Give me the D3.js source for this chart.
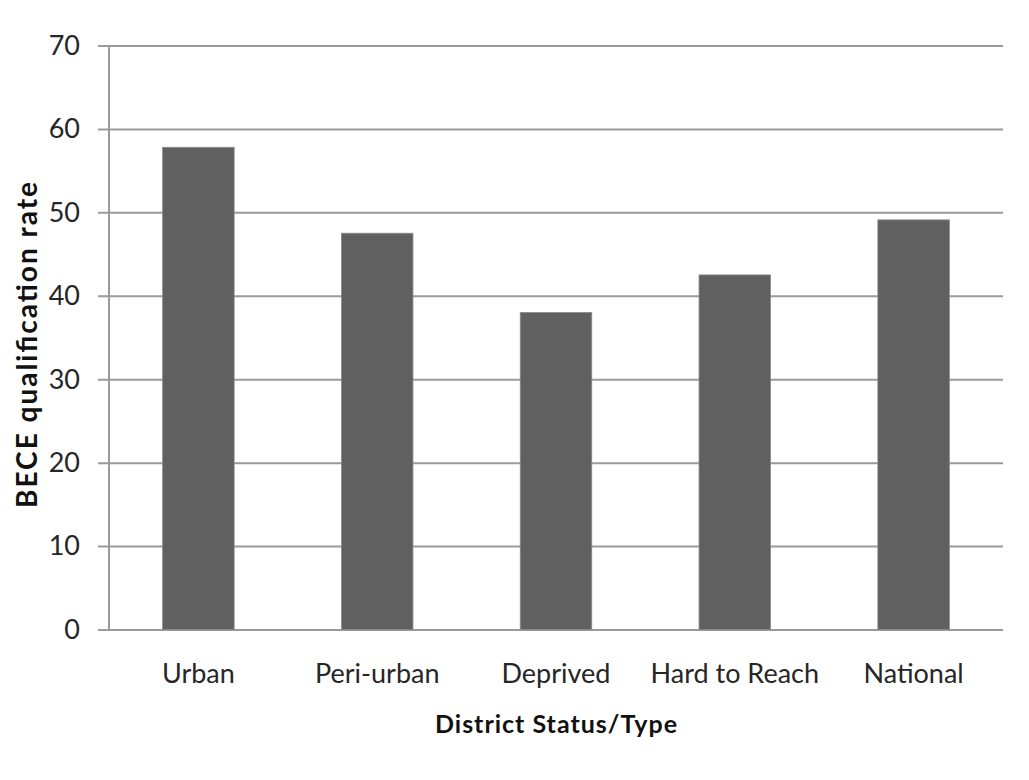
<!DOCTYPE html>
<html>
<head>
<meta charset="utf-8">
<script src="https://cdn.jsdelivr.net/npm/d3@7"></script>
<style>
  html, body { margin: 0; padding: 0; background: #ffffff; }
  svg text { font-family: Lato, "Open Sans", sans-serif; }
</style>
</head>
<body>
<svg id="chart" width="1029" height="780"></svg>
<script>
// District types and BECE qualification rates (%)
const categories = ["Urban", "Peri-urban", "Deprived", "Hard to Reach", "National"];
const rates = [57.8, 47.5, 38.0, 42.5, 49.1];
const yTicks = [0, 10, 20, 30, 40, 50, 60, 70];
const xTitle = "District Status/Type";
const yTitle = "BECE qualification rate";

const svg = d3.select("#chart");
const margin = { left: 109, right: 26, top: 45.5, bottom: 150.5 };
const W = 1029, H = 780;
const plotW = W - margin.left - margin.right;
const plotH = H - margin.top - margin.bottom;

const x = d3.scaleBand()
  .domain(categories)
  .range([0, plotW])
  .paddingInner(0.6)
  .paddingOuter(0.3);

const y = d3.scaleLinear()
  .domain([0, 70])
  .range([plotH, 0]);

const g = svg.append("g").attr("transform", `translate(${margin.left},${margin.top})`);

// Horizontal gridlines with outward tick marks
const yAxis = d3.axisLeft(y)
  .tickValues(yTicks)
  .tickSize(-plotW)
  .tickSizeOuter(0)
  .tickPadding(29)
  .tickFormat(d3.format("d"));

const yg = g.append("g").call(yAxis);
yg.select(".domain").remove();
yg.selectAll(".tick line")
  .attr("x1", -11)
  .attr("stroke", "#9a9a9a")
  .attr("stroke-width", 2);
yg.selectAll(".tick text")
  .attr("fill", "#262626")
  .attr("font-size", 27)
  .attr("dy", "0.33em");

// Vertical axis line
g.append("line")
  .attr("x1", 0).attr("x2", 0)
  .attr("y1", 0).attr("y2", plotH)
  .attr("stroke", "#9a9a9a")
  .attr("stroke-width", 2);

// Bars
g.selectAll("rect.bar")
  .data(categories)
  .join("rect")
  .attr("class", "bar")
  .attr("x", d => x(d))
  .attr("width", x.bandwidth())
  .attr("y", (d, i) => y(rates[i]))
  .attr("height", (d, i) => plotH - y(rates[i]))
  .attr("fill", "#606060")
  .attr("stroke", "#8a8a8a")
  .attr("stroke-width", 0.8);

// Category labels
const xAxis = d3.axisBottom(x).tickSize(0).tickPadding(0);
const xg = g.append("g").attr("transform", `translate(0,${plotH})`).call(xAxis);
xg.select(".domain").remove();
xg.selectAll(".tick text")
  .attr("fill", "#262626")
  .attr("font-size", 27)
  .attr("dy", null)
  .attr("y", 683 - margin.top - plotH);

// Axis titles
svg.append("text")
  .attr("x", 556)
  .attr("y", 733)
  .attr("text-anchor", "middle")
  .attr("font-size", 25)
  .attr("font-weight", "bold")
  .attr("fill", "#111")
  .attr("textLength", 242)
  .attr("lengthAdjust", "spacing")
  .text(xTitle);

svg.append("text")
  .attr("transform", "translate(37,345) rotate(-90)")
  .attr("text-anchor", "middle")
  .attr("font-size", 28)
  .attr("font-weight", "bold")
  .attr("fill", "#111")
  .attr("textLength", 326)
  .attr("lengthAdjust", "spacing")
  .text(yTitle);
</script>
</body>
</html>
